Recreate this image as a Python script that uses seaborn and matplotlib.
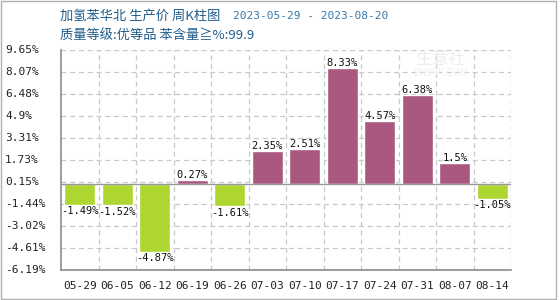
import matplotlib
matplotlib.use("Agg")
import matplotlib.pyplot as plt
import matplotlib.transforms as mtransforms
import seaborn as sns
import numpy as np
import pandas as pd

dates = ["05-29", "06-05", "06-12", "06-19", "06-26", "07-03", "07-10",
         "07-17", "07-24", "07-31", "08-07", "08-14"]
values = [-1.49, -1.52, -4.87, 0.27, -1.61, 2.35, 2.51, 8.33, 4.57, 6.38, 1.5, -1.05]
ytick_labels = ["9.65%", "8.07%", "6.48%", "4.9%", "3.31%", "1.73%", "0.15%",
                "-1.44%", "-3.02%", "-4.61%", "-6.19%"]
title_main = "加氢苯华北 生产价 周K柱图"
title_dates = "2023-05-29 - 2023-08-20"
subtitle = "质量等级:优等品 苯含量≧%:99.9"

sns.set_theme(style="white")
plt.rcParams['font.family'] = ['Noto Sans CJK SC', 'DejaVu Sans']

UP = "#AA5880"
DOWN = "#ADD631"
colors = [UP if v >= 0 else DOWN for v in values]

fig = plt.figure(figsize=(5.6, 3.0), dpi=100)
ax = fig.add_axes([61/560, 30/300, 450/560, 220/300])

df = pd.DataFrame({"date": dates, "value": values})
sns.barplot(data=df, x="date", y="value", hue="date", palette=colors,
            legend=False, width=0.83, ax=ax, saturation=1)

ymin, ymax = -6.19, 9.65
ax.set_ylim(ymin, ymax)
ax.set_xlim(-0.5, len(dates) - 0.5)
yt = np.linspace(ymax, ymin, len(ytick_labels))
ax.set_yticks(yt)
ax.set_yticklabels([""] * len(yt))
trans = mtransforms.blended_transform_factory(fig.transFigure, ax.transData)
for y, lab in zip(yt, ytick_labels):
    ax.text(5/560, y, lab, transform=trans, ha="left", va="center", fontsize=8,
            family="DejaVu Sans Mono", color="#222222", clip_on=False)
ax.set_xticks(range(len(dates)))
ax.set_xticklabels(dates, family="DejaVu Sans Mono", fontsize=8, color="#222222")
ax.tick_params(axis="both", which="both", length=0, pad=8)
ax.set_xlabel("")
ax.set_ylabel("")

ax.grid(False)
for y in yt:
    ax.axhline(y, color="#c8c8c8", lw=0.9, ls=(0, (4, 3)), zorder=0)
for x in np.arange(0.5, len(dates), 1):
    ax.axvline(x, color="#c8c8c8", lw=0.9, ls=(0, (4, 3)), zorder=0)
ax.axvline(len(dates) - 0.5, color="#c8c8c8", lw=0.9, ls=(0, (4, 3)), zorder=0)
ax.axhline(0, color="#999999", lw=1.0, zorder=1)

for s in ["top", "right"]:
    ax.spines[s].set_visible(False)
for s in ["left", "bottom"]:
    ax.spines[s].set_color("#8c8c8c")
    ax.spines[s].set_linewidth(1.2)

for i, v in enumerate(values):
    if v >= 0:
        ax.text(i, v, f"{v:g}%", ha="center", va="bottom", fontsize=7.5,
                family="DejaVu Sans Mono", color="#111111")
    else:
        ax.text(i, v - 0.1, f"{v:g}%", ha="center", va="top", fontsize=7.5,
                family="DejaVu Sans Mono", color="#111111")

# watermark
ax.text(9.6, 9.0, "生意社", fontsize=12, color="#ececec", ha="center", va="center", zorder=0.5)
ax.text(9.6, 8.0, "100PPI.COM", fontsize=7, color="#f0f0f0", ha="center", va="center", zorder=0.5)

fig.text(60/560, 1 - 16/300, title_main, fontsize=9.5, color="#1f5c8b", va="center")
fig.text(233/560, 1 - 16/300, title_dates, fontsize=8, color="#3a78a8", va="center",
         family="DejaVu Sans Mono")
fig.text(60/560, 1 - 35/300, subtitle, fontsize=9.5, color="#1f5c8b", va="center")

# outer frame
fig.patches.append(matplotlib.patches.Rectangle((0.002, 0.003), 0.99, 0.994, transform=fig.transFigure,
                                                fill=False, edgecolor="#b0b0b0", lw=1))

fig.savefig("out.png", dpi=100)
